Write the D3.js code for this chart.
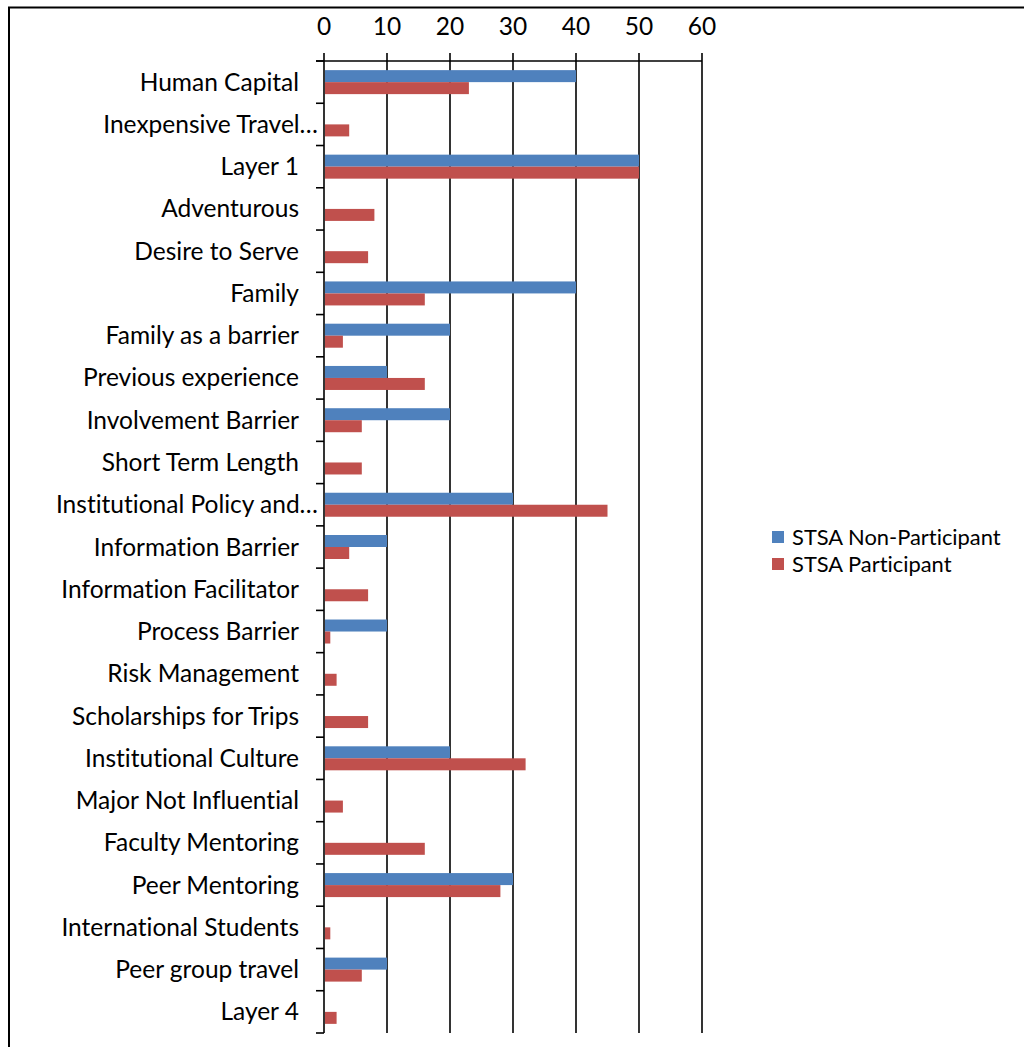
<!DOCTYPE html>
<html><head><meta charset="utf-8">
<script src="https://cdn.jsdelivr.net/npm/d3@7"></script>
<style>body{margin:0;background:#fff}svg{display:block}text{font-variant-ligatures:none;font-feature-settings:"liga" 0}</style>
</head><body>
<script>
const categories = ["Human Capital","Inexpensive Travel…","Layer 1","Adventurous","Desire to Serve","Family","Family as a barrier","Previous experience","Involvement Barrier","Short Term Length","Institutional Policy and…","Information Barrier","Information Facilitator","Process Barrier","Risk Management","Scholarships for Trips","Institutional Culture","Major Not Influential","Faculty Mentoring","Peer Mentoring","International Students","Peer group travel","Layer 4"];
const nonParticipant = [40,0,50,0,0,40,20,10,20,0,30,10,0,10,0,0,20,0,0,30,0,10,0];
const participant = [23,4,50,8,7,16,3,16,6,6,45,4,7,1,2,7,32,3,16,28,1,6,2];
const seriesNames = ["STSA Non-Participant","STSA Participant"];
const seriesColors = ["#4F81BD","#C0504D"];
const xTicks = [0,10,20,30,40,50,60];

const W=1024,H=1047;
const svg=d3.select("body").append("svg").attr("width",W).attr("height",H);
const font="Lato, 'Open Sans', sans-serif";
svg.append("rect").attr("x",9).attr("y",7.5).attr("width",1040).attr("height",1060).attr("fill","none").attr("stroke","#000").attr("stroke-width",2);

const x=d3.scaleLinear().domain([0,60]).range([324,702]);
const y=d3.scaleBand().domain(categories).range([61,1033]);
const inner=d3.scaleBand().domain([0,1]).range([0,24]);

const g=svg.append("g");
g.selectAll("line.grid").data(xTicks).join("line").attr("class","grid")
 .attr("x1",d=>x(d)).attr("x2",d=>x(d)).attr("y1",53).attr("y2",1033)
 .attr("stroke","#000").attr("stroke-width",1.6);
g.append("line").attr("x1",316).attr("x2",x(60)).attr("y1",61).attr("y2",61).attr("stroke","#000").attr("stroke-width",1.6);
const bounds=categories.map(c=>y(c)).concat([y.range()[1]]);
g.selectAll("line.ct").data(bounds).join("line").attr("class","ct")
 .attr("x1",316).attr("x2",324).attr("y1",d=>d).attr("y2",d=>d).attr("stroke","#000").attr("stroke-width",1.6);
g.selectAll("text.xt").data(xTicks).join("text").attr("class","xt")
 .attr("x",d=>x(d)).attr("y",35).attr("text-anchor","middle")
 .attr("font-family",font).attr("font-size",24.5).text(d=>d);

const data=categories.map((c,i)=>({c,v:[nonParticipant[i],participant[i]]}));
const bg=svg.append("g");
data.forEach(d=>{
  const cy=y(d.c)+y.bandwidth()/2-12;
  d.v.forEach((v,s)=>{
    if(v<=0) return;
    bg.append("rect").attr("x",x(0)+1).attr("y",cy+inner(s)).attr("width",x(v)-x(0)-1).attr("height",inner.bandwidth())
      .attr("fill",seriesColors[s]);
  });
});

svg.append("g").selectAll("text").data(categories).join("text")
 .attr("x",d=>d.endsWith("…")?318:299).attr("y",d=>y(d)+y.bandwidth()/2+8.5)
 .attr("text-anchor","end").attr("font-family",font).attr("font-size",24.5).text(d=>d);

const lg=svg.append("g");
seriesNames.forEach((n,i)=>{
  lg.append("rect").attr("x",772).attr("y",531+i*27).attr("width",12).attr("height",12).attr("fill",seriesColors[i]);
  lg.append("text").attr("x",792).attr("y",544.5+i*27).attr("font-family",font).attr("font-size",21.9).text(n);
});
</script>
</body></html>
